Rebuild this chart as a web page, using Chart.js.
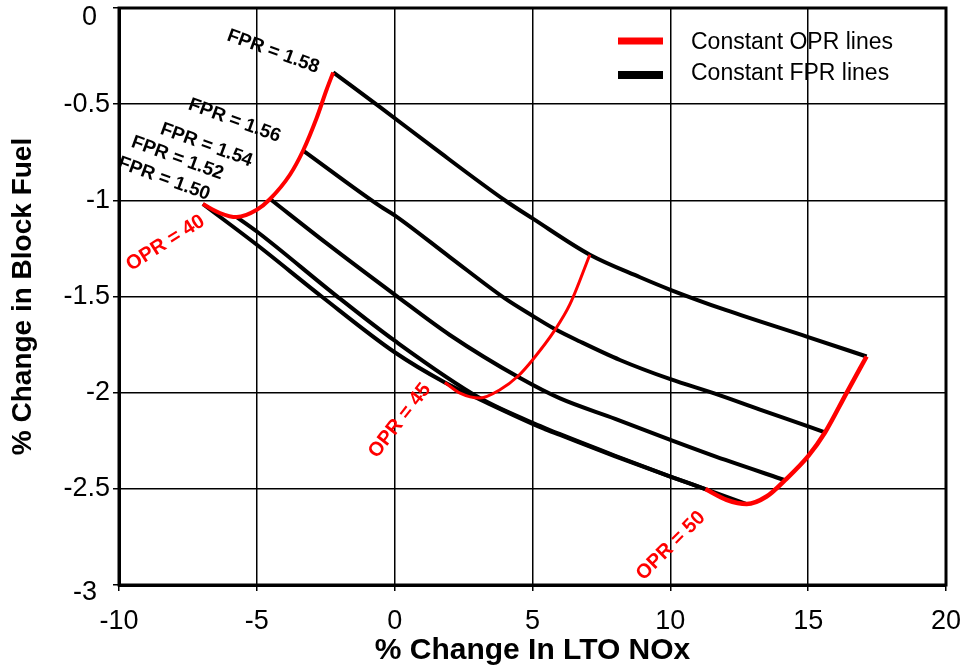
<!DOCTYPE html>
<html>
<head>
<meta charset="utf-8">
<script src="https://cdn.jsdelivr.net/npm/chart.js@4/dist/chart.umd.min.js"></script>
<style>
html,body{margin:0;padding:0;background:#fff;}
#c{display:block;}
</style>
</head>
<body>
<canvas id="c" width="972" height="670"></canvas>
<script>
// ---- Data ----
// Constant FPR lines (black)
const fpr158X = [-2.23, -0.53, 1.40, 4.06, 5.0, 7.08, 8.9, 10.0, 12.0, 15.0, 17.12];
const fpr158Y = [-0.335, -0.515, -0.725, -1.006, -1.094, -1.283, -1.40, -1.465, -1.57, -1.711, -1.812];

const fpr156X = [-3.32, -0.53, 0, 2.0, 4.0, 5.0, 5.81, 6.72, 8.17, 10, 11.62, 13.25, 15, 15.61];
const fpr156Y = [-0.741, -1.03, -1.078, -1.295, -1.51, -1.60, -1.669, -1.734, -1.83, -1.93, -2.005, -2.088, -2.175, -2.207];

const fpr154X = [-4.52, -2.5, 0, 2.0, 4.55, 6.0, 8.0, 10, 12, 14.16];
const fpr154Y = [-0.993, -1.22, -1.49, -1.70, -1.924, -2.03, -2.136, -2.245, -2.35, -2.455];

const fpr152X = [-5.73, -5.0, -2.17, 0, 3.09, 5.39, 6.0, 8.0, 10, 11.27, 12.77];
const fpr152Y = [-1.087, -1.162, -1.49, -1.73, -2.028, -2.18, -2.216, -2.328, -2.436, -2.501, -2.579];

const fpr150X = [-6.96, -5.0, -2.65, 0, 1.82, 3.09, 5.39, 6.0, 8.0, 10, 11.27];
const fpr150Y = [-1.019, -1.231, -1.5, -1.79, -1.947, -2.035, -2.186, -2.22, -2.331, -2.437, -2.501];

// Constant OPR lines (red)
const opr40X = [-6.96, -6.34, -5.73, -5.0, -4.52, -3.8, -3.32, -2.83, -2.47, -2.23];
const opr40Y = [-1.019, -1.066, -1.087, -1.049, -0.993, -0.867, -0.741, -0.572, -0.425, -0.335];

const opr45X = [1.82, 2.37, 3.09, 3.82, 4.49, 5.0, 5.81, 6.36, 7.08];
const opr45Y = [-1.947, -2.002, -2.028, -1.985, -1.912, -1.83, -1.675, -1.54, -1.283];

const opr50X = [11.27, 12.04, 12.77, 13.49, 14.16, 15.0, 15.61, 16.39, 17.12];
const opr50Y = [-2.501, -2.557, -2.579, -2.54, -2.455, -2.33, -2.207, -2.002, -1.812];

// Axis ticks
const xTickMin = -10, xTickMax = 20, xTickStep = 5;
const yTickMin = -3, yTickMax = 0, yTickStep = 0.5;

// Text
const xTitle = '% Change In LTO NOx';
const yTitle = '% Change in Block Fuel';
const legendItems = ['Constant OPR lines', 'Constant FPR lines'];

// Curve annotations (anchored in data units)
const curveLabels = [
  {text: 'FPR = 1.58', x: -4.41, y: -0.227, angle: 20, color: '#000000', size: 19},
  {text: 'FPR = 1.56', x: -5.81, y: -0.586, angle: 20, color: '#000000', size: 19},
  {text: 'FPR = 1.54', x: -6.83, y: -0.713, angle: 20, color: '#000000', size: 19},
  {text: 'FPR = 1.52', x: -7.88, y: -0.781, angle: 20, color: '#000000', size: 19},
  {text: 'FPR = 1.50', x: -8.37, y: -0.888, angle: 20, color: '#000000', size: 19},
  {text: 'OPR = 40', x: -8.31, y: -1.222, angle: -32, color: '#ff0000', size: 20},
  {text: 'OPR = 45', x: 0.19, y: -2.146, angle: -52, color: '#ff0000', size: 20},
  {text: 'OPR = 50', x: 10.02, y: -2.796, angle: -45, color: '#ff0000', size: 20}
];

// ---- Chart ----
const FONT = "'Liberation Sans', Arial, Helvetica, sans-serif";
function pts(xs, ys) { return xs.map((x, i) => ({x: x, y: ys[i]})); }

const RED = '#ff0000';
const BLACK = '#000000';

const datasets = [
  {label: 'OPR 40', data: pts(opr40X, opr40Y), borderColor: RED, borderWidth: 4},
  {label: 'OPR 45', data: pts(opr45X, opr45Y), borderColor: RED, borderWidth: 3},
  {label: 'OPR 50', data: pts(opr50X, opr50Y), borderColor: RED, borderWidth: 4.5},
  {label: 'FPR 1.58', data: pts(fpr158X, fpr158Y), borderColor: BLACK, borderWidth: 4},
  {label: 'FPR 1.56', data: pts(fpr156X, fpr156Y), borderColor: BLACK, borderWidth: 4},
  {label: 'FPR 1.54', data: pts(fpr154X, fpr154Y), borderColor: BLACK, borderWidth: 4},
  {label: 'FPR 1.52', data: pts(fpr152X, fpr152Y), borderColor: BLACK, borderWidth: 4},
  {label: 'FPR 1.50', data: pts(fpr150X, fpr150Y), borderColor: BLACK, borderWidth: 4}
].map(d => Object.assign({
  showLine: true, pointRadius: 0, pointHoverRadius: 0, fill: false,
  cubicInterpolationMode: 'monotone', borderCapStyle: 'butt', borderJoinStyle: 'round'
}, d));

function fmt(v) { return String(Math.round(v * 10) / 10); }

const decorPlugin = {
  id: 'decor',
  afterDatasetsDraw(chart) {
    const ctx = chart.ctx;
    const xs = chart.scales.x, ys = chart.scales.y;
    const a = chart.chartArea;
    // plot frame
    ctx.save();
    ctx.strokeStyle = '#000';
    ctx.lineWidth = 3;
    ctx.strokeRect(a.left, a.top, a.right - a.left, a.bottom - a.top);
    ctx.restore();
    // curve labels
    curveLabels.forEach(l => {
      ctx.save();
      ctx.translate(xs.getPixelForValue(l.x), ys.getPixelForValue(l.y));
      ctx.rotate(l.angle * Math.PI / 180);
      ctx.font = 'bold ' + l.size + 'px ' + FONT;
      ctx.fillStyle = l.color;
      ctx.textAlign = 'center';
      ctx.textBaseline = 'middle';
      ctx.fillText(l.text, 0, 0);
      ctx.restore();
    });
    // legend
    ctx.save();
    ctx.lineCap = 'butt';
    ctx.strokeStyle = RED; ctx.lineWidth = 7;
    ctx.beginPath(); ctx.moveTo(618, 41); ctx.lineTo(663, 41); ctx.stroke();
    ctx.strokeStyle = BLACK; ctx.lineWidth = 8;
    ctx.beginPath(); ctx.moveTo(618, 75); ctx.lineTo(663, 75); ctx.stroke();
    ctx.fillStyle = '#000';
    ctx.font = '23px ' + FONT;
    ctx.textAlign = 'left';
    ctx.textBaseline = 'alphabetic';
    ctx.fillText(legendItems[0], 691, 49);
    ctx.fillText(legendItems[1], 691, 80);
    // end y tick labels (offset like the reference)
    ctx.font = '27px ' + FONT;
    ctx.textAlign = 'right';
    ctx.fillText(fmt(yTickMax), 97, 25);
    ctx.fillText(fmt(yTickMin), 97, 600);
    ctx.restore();
  }
};

new Chart(document.getElementById('c'), {
  type: 'scatter',
  data: {datasets: datasets},
  options: {
    responsive: false,
    animation: false,
    devicePixelRatio: 1,
    layout: {padding: {top: 8, right: 26, left: 0, bottom: 0}},
    plugins: {legend: {display: false}, tooltip: {enabled: false}},
    scales: {
      x: {
        type: 'linear', min: xTickMin, max: xTickMax,
        ticks: {stepSize: xTickStep, color: '#000', font: {family: FONT, size: 27}, padding: 14, maxRotation: 0, callback: v => fmt(v)},
        grid: {color: '#000', lineWidth: 1.5, tickLength: 6, tickColor: '#000', tickWidth: 1.5},
        border: {color: '#000', width: 3},
        title: {display: true, text: xTitle, color: '#000', font: {family: FONT, size: 30, weight: 'bold'}, padding: {top: 0, bottom: 1}},
        afterFit(s) { s.height = 85; s.paddingLeft = 0; s.paddingRight = 0; }
      },
      y: {
        type: 'linear', min: yTickMin, max: yTickMax,
        ticks: {stepSize: yTickStep, color: '#000', font: {family: FONT, size: 27}, padding: 3,
          callback: v => (Math.abs(v - yTickMax) < 1e-9 || Math.abs(v - yTickMin) < 1e-9) ? '' : fmt(v)},
        grid: {color: '#000', lineWidth: 1.5, tickLength: 6, tickColor: '#000', tickWidth: 1.5},
        border: {color: '#000', width: 3},
        title: {display: true, text: yTitle, color: '#000', font: {family: FONT, size: 28, weight: 'bold'}, padding: {top: 6, bottom: 0}},
        afterFit(s) { s.width = 119; s.paddingTop = 0; s.paddingBottom = 0; }
      }
    }
  },
  plugins: [decorPlugin]
});
</script>
</body>
</html>
